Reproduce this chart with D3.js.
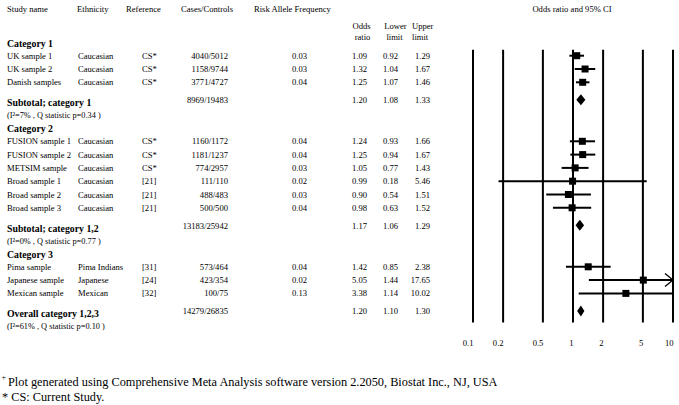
<!DOCTYPE html>
<html><head><meta charset="utf-8">
<script src="https://cdn.jsdelivr.net/npm/d3@7/dist/d3.min.js"></script>
<style>
body{margin:0;background:#fff}
svg text{font-family:"Liberation Serif","Times New Roman",serif;fill:#000}
</style>
</head><body>
<svg id="chart" width="679" height="405"></svg>
<script>
// ---------------- data ----------------
const categories = ["Category 1", "Category 2", "Category 3"];
const studyNames = ["UK sample 1", "UK sample 2", "Danish samples", "FUSION sample 1", "FUSION sample 2", "METSIM sample", "Broad sample 1", "Broad sample 2", "Broad sample 3", "Pima sample", "Japanese sample", "Mexican sample"];
const studyCategory = [0, 0, 0, 1, 1, 1, 1, 1, 1, 2, 2, 2];
const ethnicity = ["Caucasian", "Caucasian", "Caucasian", "Caucasian", "Caucasian", "Caucasian", "Caucasian", "Caucasian", "Caucasian", "Pima Indians", "Japanese", "Mexican"];
const references = ["CS*", "CS*", "CS*", "CS*", "CS*", "CS*", "[21]", "[21]", "[21]", "[31]", "[24]", "[32]"];
const casesControls = ["4040/5012", "1158/9744", "3771/4727", "1160/1172", "1181/1237", "774/2957", "111/110", "488/483", "500/500", "573/464", "423/354", "100/75"];
const riskAlleleFreq = ["0.03", "0.03", "0.04", "0.04", "0.04", "0.03", "0.02", "0.03", "0.04", "0.04", "0.02", "0.13"];
const oddsRatio = [1.09, 1.32, 1.25, 1.24, 1.25, 1.05, 0.99, 0.90, 0.98, 1.42, 5.05, 3.38];
const lowerLimit = [0.92, 1.04, 1.07, 0.93, 0.94, 0.77, 0.18, 0.54, 0.63, 0.85, 1.44, 1.14];
const upperLimit = [1.29, 1.67, 1.46, 1.66, 1.67, 1.43, 5.46, 1.51, 1.52, 2.38, 17.65, 10.02];

const subtotalLabels = ["Subtotal; category 1", "Subtotal; category 1,2", "Overall category 1,2,3"];
const subtotalCases = ["8969/19483", "13183/25942", "14279/26835"];
const subtotalOR = [1.20, 1.17, 1.20];
const subtotalLower = [1.08, 1.06, 1.10];
const subtotalUpper = [1.33, 1.29, 1.30];
const heterogeneity = ["(I\u00b2=7% , Q statistic p=0.34 )", "(I\u00b2=0% , Q statistic p=0.77 )", "(I\u00b2=61% , Q statistic  p=0.10 )"];

const xTicks = [0.1, 0.2, 0.5, 1, 2, 5, 10];
const xTickLabels = ["0.1", "0.2", "0.5", "1", "2", "5", "10"];

const headerLabels = ["Study name", "Ethnicity", "Reference", "Cases/Controls", "Risk Allele Frequency"];
const plotTitle = "Odds ratio and 95% CI";
const footnotes = ["Plot generated using Comprehensive Meta Analysis software version 2.2050, Biostat Inc., NJ, USA", "* CS: Current Study."];

// ---------------- layout ----------------
const svg = d3.select("#chart");
const fmt = d3.format(".2f");
const REG = 8.6, BOLD = 9.8;

// build row sequence (baselines)
const rows = [];
let y = 46.7;
categories.forEach((c, ci) => {
  rows.push({type: "cat", label: c, y});
  y += 12;
  const idx = studyNames.map((d, i) => i).filter(i => studyCategory[i] === ci);
  idx.forEach((i, k) => {
    rows.push({type: "study", i, y});
    y += (k === idx.length - 1) ? 21 : 13.3;
  });
  rows.push({type: "sub", i: ci, y});
  y += 12;
  rows.push({type: "het", i: ci, y});
  y += 14;
});

const x = d3.scaleLog().domain([xTicks[0], xTicks[xTicks.length - 1]]).range([473, 673]).clamp(true);
const axisMax = xTicks[xTicks.length - 1];

const col = {study: 7, eth: 78, ref: 142, cases: 228, raf: 292, or: 367, lo: 398, up: 430};
const headerX = [7, 77, 126, 181, 254];

function txt(g, xx, yy, s, opts = {}) {
  return g.append("text").attr("x", xx).attr("y", yy)
    .attr("font-size", opts.size || REG)
    .attr("font-weight", opts.bold ? "bold" : "normal")
    .attr("text-anchor", opts.anchor || "start")
    .text(s);
}

const tbl = svg.append("g");
headerLabels.forEach((h, k) => txt(tbl, headerX[k], 11.5, h));
txt(tbl, 361.5, 29, "Odds", {anchor: "middle"});
txt(tbl, 362.5, 39.5, "ratio", {anchor: "middle"});
txt(tbl, 395.5, 29, "Lower", {anchor: "middle"});
txt(tbl, 394.5, 39.5, "limit", {anchor: "middle"});
txt(tbl, 412, 29, "Upper");
txt(tbl, 412, 39.5, "limit");

rows.forEach(r => {
  if (r.type === "cat") {
    txt(tbl, col.study, r.y, r.label, {bold: true, size: BOLD});
  } else if (r.type === "study") {
    const i = r.i;
    txt(tbl, col.study, r.y, studyNames[i]);
    txt(tbl, col.eth, r.y, ethnicity[i]);
    txt(tbl, col.ref, r.y, references[i]);
    txt(tbl, col.cases, r.y, casesControls[i], {anchor: "end"});
    txt(tbl, col.raf, r.y, riskAlleleFreq[i]);
    txt(tbl, col.or, r.y, fmt(oddsRatio[i]), {anchor: "end"});
    txt(tbl, col.lo, r.y, fmt(lowerLimit[i]), {anchor: "end"});
    txt(tbl, col.up, r.y, fmt(upperLimit[i]), {anchor: "end"});
  } else if (r.type === "sub") {
    const i = r.i, vy = r.y - 3;
    txt(tbl, col.study, r.y, subtotalLabels[i], {bold: true, size: BOLD});
    txt(tbl, col.cases, vy, subtotalCases[i], {anchor: "end"});
    txt(tbl, col.or, vy, fmt(subtotalOR[i]), {anchor: "end"});
    txt(tbl, col.lo, vy, fmt(subtotalLower[i]), {anchor: "end"});
    txt(tbl, col.up, vy, fmt(subtotalUpper[i]), {anchor: "end"});
  } else if (r.type === "het") {
    txt(tbl, col.study, r.y, heterogeneity[r.i], {size: 8.3});
  }
});

// ---------------- forest plot ----------------
const studyRows = rows.filter(r => r.type === "study");
const subRows = rows.filter(r => r.type === "sub");
const plotTop = studyRows[0].y - 9;
const plotBottom = subRows[subRows.length - 1].y + 5;

const plot = svg.append("g");
txt(plot, 572, 12, plotTitle, {anchor: "middle"});

plot.selectAll("line.grid").data(xTicks).join("line")
  .attr("class", "grid")
  .attr("x1", d => x(d)).attr("x2", d => x(d))
  .attr("y1", plotTop).attr("y2", plotBottom)
  .attr("stroke", "#000").attr("stroke-width", 2);

plot.selectAll("text.tick").data(xTicks).join("text")
  .attr("class", "tick")
  .attr("x", d => x(d) + 0.5).attr("y", plotBottom + 24)
  .attr("text-anchor", "end").attr("font-size", 8.6)
  .text((d, k) => xTickLabels[k]);

// study CIs and squares
const sq = 7;
studyRows.forEach(r => {
  const i = r.i, cy = r.y - 3;
  plot.append("line")
    .attr("x1", x(lowerLimit[i])).attr("x2", x(upperLimit[i]))
    .attr("y1", cy).attr("y2", cy)
    .attr("stroke", "#000").attr("stroke-width", 2);
  if (upperLimit[i] > axisMax * 1.05) {
    const xe = x(axisMax);
    plot.append("path")
      .attr("d", `M${xe - 8},${cy - 6.5}L${xe},${cy}L${xe - 8},${cy + 6.5}`)
      .attr("fill", "none").attr("stroke", "#000").attr("stroke-width", 1.3);
  }
  plot.append("rect")
    .attr("x", x(oddsRatio[i]) - sq / 2).attr("y", cy - sq / 2)
    .attr("width", sq).attr("height", sq).attr("fill", "#000");
});

// diamonds
subRows.forEach(r => {
  const i = r.i, cy = r.y - 6.5, h = 5.5;
  const xl = x(subtotalLower[i]), xr = x(subtotalUpper[i]), xm = x(subtotalOR[i]);
  plot.append("path")
    .attr("d", `M${xl},${cy}L${xm},${cy - h}L${xr},${cy}L${xm},${cy + h}Z`)
    .attr("fill", "#000");
});

// ---------------- footnotes ----------------
const fn = svg.append("g");
txt(fn, 1.5, 380, "+", {size: 8});
txt(fn, 8, 386, footnotes[0], {size: 12.3});
txt(fn, 2, 400.5, footnotes[1], {size: 12.3});
</script>
</body></html>
